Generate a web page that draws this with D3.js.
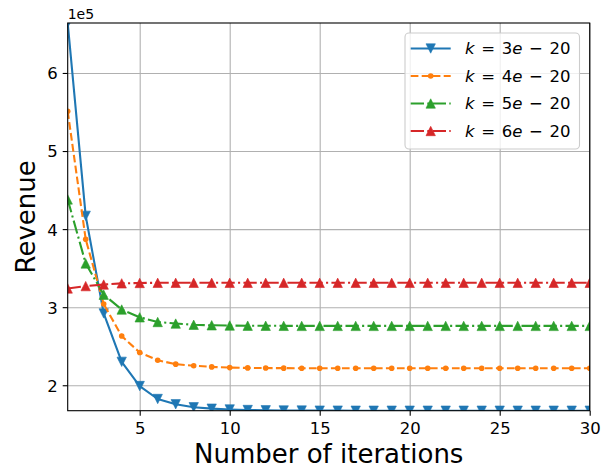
<!DOCTYPE html>
<html lang="en">
<head>
    <meta charset="UTF-8">
    <title>Revenue vs iterations</title>
    <script src="https://d3js.org/d3.v7.min.js"></script>
    <style>
        body { margin: 0; background: #fff; }
        svg { display: block; font-family: "DejaVu Sans", sans-serif; }
    </style>
</head>
<body>
    <script>

        var w = 613;
        var h = 472;

        // iteration number on x
        var iterations = [1, 2, 3, 4, 5, 6, 7, 8, 9, 10, 11, 12, 13, 14, 15,
                          16, 17, 18, 19, 20, 21, 22, 23, 24, 25, 26, 27, 28, 29, 30];

        // revenue (x1e5)
        var rev3 = [6.64, 4.17, 2.92, 2.30, 1.99, 1.824, 1.756, 1.718, 1.700, 1.690,
                    1.683, 1.679, 1.677, 1.676, 1.675, 1.675, 1.674, 1.674, 1.674, 1.674,
                    1.674, 1.674, 1.674, 1.674, 1.674, 1.674, 1.674, 1.674, 1.674, 1.674];
        var rev4 = [5.51, 3.87, 3.04, 2.63, 2.42, 2.32, 2.27, 2.25, 2.235, 2.226,
                    2.222, 2.220, 2.219, 2.218, 2.218, 2.218, 2.218, 2.218, 2.218, 2.218,
                    2.218, 2.218, 2.218, 2.218, 2.218, 2.218, 2.218, 2.218, 2.218, 2.218];
        var rev5 = [4.38, 3.56, 3.16, 2.97, 2.87, 2.81, 2.79, 2.775, 2.768, 2.765,
                    2.763, 2.762, 2.761, 2.760, 2.760, 2.760, 2.760, 2.760, 2.760, 2.760,
                    2.760, 2.760, 2.760, 2.760, 2.760, 2.760, 2.760, 2.760, 2.760, 2.760];
        var rev6 = [3.24, 3.27, 3.29, 3.305, 3.31, 3.312, 3.312, 3.312, 3.312, 3.312,
                    3.312, 3.312, 3.312, 3.312, 3.312, 3.312, 3.312, 3.312, 3.312, 3.312,
                    3.312, 3.312, 3.312, 3.312, 3.312, 3.312, 3.312, 3.312, 3.312, 3.312];

        var kLabels = ['3', '4', '5', '6'];
        var xTicks = [5, 10, 15, 20, 25, 30];
        var yTicks = [2, 3, 4, 5, 6];

        var series = [
            { vals: rev3, color: '#1f77b4', dash: null, marker: 'down', lab: kLabels[0] },
            { vals: rev4, color: '#ff7f0e', dash: '7.7,3.3', marker: 'dot', lab: kLabels[1] },
            { vals: rev5, color: '#2ca02c', dash: '13.3,3.3,2.1,3.3', marker: 'up', lab: kLabels[2] },
            { vals: rev6, color: '#d62728', dash: '13.3,3.3,2.1,3.3', marker: 'up', lab: kLabels[3] }
        ];

        var pL = 67.7, pR = 589.7, pT = 23, pB = 410.7;

        var all = [].concat(rev3, rev4, rev5, rev6).map(function(v){ return v * 1e5; });

        var x = d3.scaleLinear().domain([1, 30]).range([pL, pR]);
        var y = d3.scaleLinear().domain([d3.min(all), d3.max(all)]).range([pB, pT]);

        var svg = d3.select('body').append('svg').attr('width', w).attr('height', h);

        svg.append('defs').append('clipPath').attr('id', 'plotclip')
            .append('rect').attr('x', pL).attr('y', pT)
            .attr('width', pR - pL).attr('height', pB - pT);

        // grid
        var gx = svg.append('g').attr('transform', 'translate(0,' + pB + ')')
            .call(d3.axisBottom(x).tickValues(xTicks).tickSize(-(pB - pT)).tickFormat(''));
        var gy = svg.append('g').attr('transform', 'translate(' + pL + ',0)')
            .call(d3.axisLeft(y).tickValues(yTicks.map(function(t){ return t * 1e5; }))
                .tickSize(-(pR - pL)).tickFormat(''));
        [gx, gy].forEach(function(g){
            g.select('.domain').remove();
            g.selectAll('line').attr('stroke', '#b0b0b0').attr('stroke-width', 1.1);
        });

        // lines + markers
        var line = d3.line()
            .x(function(d, i){ return x(iterations[i]); })
            .y(function(d){ return y(d * 1e5); });

        function markerPath(type, s){
            if (type === 'up') return 'M0,' + (-s/2) + 'L' + (s/2) + ',' + (s/2) + 'L' + (-s/2) + ',' + (s/2) + 'Z';
            return 'M0,' + (s/2) + 'L' + (s/2) + ',' + (-s/2) + 'L' + (-s/2) + ',' + (-s/2) + 'Z';
        }

        function drawMarker(g, type, color){
            if (type === 'dot') {
                g.append('circle').attr('r', 2.8).attr('fill', color);
            } else {
                g.append('path').attr('d', markerPath(type, 9.4))
                    .attr('fill', color).attr('stroke', color).attr('stroke-width', 0.6);
            }
        }

        var plot = svg.append('g').attr('clip-path', 'url(#plotclip)');

        series.forEach(function(s){
            plot.append('path').datum(s.vals)
                .attr('d', line)
                .attr('fill', 'none')
                .attr('stroke', s.color)
                .attr('stroke-width', 2.1)
                .attr('stroke-dasharray', s.dash)
                .attr('stroke-linejoin', 'round');
            s.vals.forEach(function(v, i){
                var m = plot.append('g')
                    .attr('transform', 'translate(' + x(iterations[i]) + ',' + y(v * 1e5) + ')');
                drawMarker(m, s.marker, s.color);
            });
        });

        // spines
        svg.append('rect').attr('x', pL).attr('y', pT)
            .attr('width', pR - pL).attr('height', pB - pT)
            .attr('fill', 'none').attr('stroke', '#000').attr('stroke-width', 1.1);

        // axes with tick labels
        var ax = svg.append('g').attr('transform', 'translate(0,' + pB + ')')
            .call(d3.axisBottom(x).tickValues(xTicks).tickSize(5).tickPadding(5));
        var ay = svg.append('g').attr('transform', 'translate(' + pL + ',0)')
            .call(d3.axisLeft(y).tickValues(yTicks.map(function(t){ return t * 1e5; }))
                .tickSize(5).tickPadding(5)
                .tickFormat(function(d){ return d / 1e5; }));
        [ax, ay].forEach(function(g){
            g.select('.domain').remove();
            g.selectAll('line').attr('stroke', '#000').attr('stroke-width', 1.1);
            g.selectAll('text').attr('fill', '#000')
                .style('font-family', '"DejaVu Sans", sans-serif').style('font-size', '16.5px');
        });
        ax.selectAll('text').attr('dy', null).attr('y', 23.5);
        ay.selectAll('text').attr('dy', '0.36em');

        // offset label
        svg.append('text').attr('x', pL).attr('y', 18.5)
            .style('font-size', '14px').text('1e5');

        // axis titles
        svg.append('text')
            .attr('x', (pL + pR) / 2).attr('y', 462.5)
            .attr('text-anchor', 'middle').style('font-size', '26px')
            .text('Number of iterations');
        svg.append('text')
            .attr('transform', 'translate(35,' + ((pT + pB) / 2) + ') rotate(-90)')
            .attr('text-anchor', 'middle').style('font-size', '26px')
            .text('Revenue');

        // legend
        var leg = svg.append('g');
        leg.append('rect').attr('x', 405).attr('y', 33).attr('width', 174.5).attr('height', 116)
            .attr('rx', 4).attr('fill', '#fff').attr('fill-opacity', 0.8)
            .attr('stroke', '#cccccc').attr('stroke-width', 1.1);

        series.forEach(function(s, i){
            var cy = 48.5 + i * 27.5;
            leg.append('line').attr('x1', 410.7).attr('x2', 450.7).attr('y1', cy).attr('y2', cy)
                .attr('stroke', s.color).attr('stroke-width', 2.1)
                .attr('stroke-dasharray', s.dash);
            var m = leg.append('g').attr('transform', 'translate(430.7,' + cy + ')');
            drawMarker(m, s.marker, s.color);

            var t = leg.append('text').attr('x', 465).attr('y', cy).attr('dy', '0.36em')
                .style('font-size', '16.5px').attr('xml:space', 'preserve')
                .style('word-spacing', '1.4px');
            t.append('tspan').style('font-style', 'italic').text('k');
            t.append('tspan').text(' = ' + s.lab);
            t.append('tspan').style('font-style', 'italic').text('e');
            t.append('tspan').text(' \u2212 20');
        });

    </script>
</body>
</html>
